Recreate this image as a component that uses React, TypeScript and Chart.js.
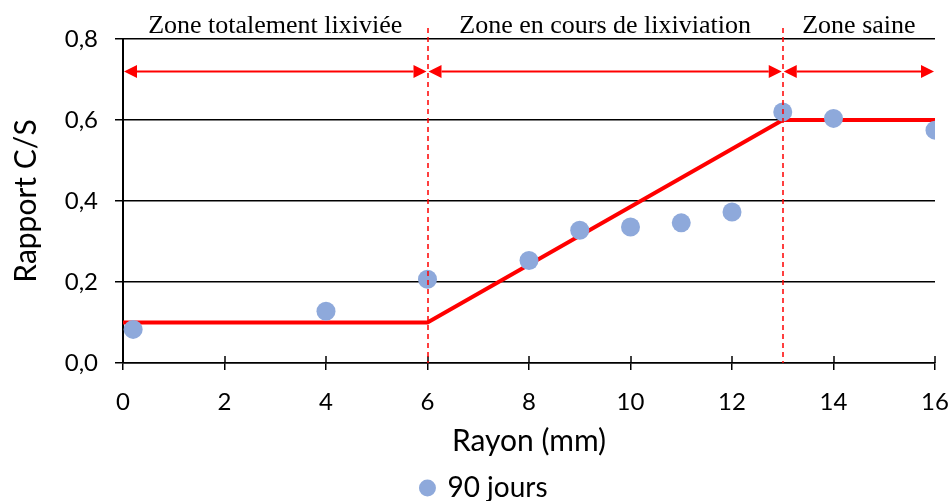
import React, { useEffect, useRef } from 'react';
import { Chart, registerables } from 'chart.js';

Chart.register(...registerables);

// ---- data ----
const rayon = [0.2, 4, 6, 8, 9, 10, 11, 12, 13, 14, 16];
const rapport = [0.083, 0.128, 0.207, 0.253, 0.328, 0.336, 0.346, 0.373, 0.62, 0.604, 0.575];
const modelX = [0, 6, 13, 16];
const modelY = [0.1, 0.1, 0.6, 0.6];
const zoneBounds = [0, 6, 13, 16];
const zoneLabels = ['Zone totalement lixiviée', 'Zone en cours de lixiviation', 'Zone saine'];
const arrowLevel = 0.72;
const seriesLabel = '90 jours';
const xTitle = 'Rayon (mm)';
const yTitle = 'Rapport C/S';

const SANS = 'Lato, "Open Sans", sans-serif';
const SERIF = '"Liberation Serif", "Times New Roman", serif';

const zonesPlugin = {
  id: 'zones',
  afterDatasetsDraw(chart: any) {
    const { ctx, chartArea, scales } = chart;
    const x = scales.x;
    const y = scales.y;
    ctx.save();
    // inner half of x tick marks
    ctx.strokeStyle = '#000';
    ctx.lineWidth = 1.5;
    x.ticks.forEach((t: any) => {
      const px = Math.round(x.getPixelForValue(t.value));
      ctx.beginPath();
      ctx.moveTo(px, chartArea.bottom - 7);
      ctx.lineTo(px, chartArea.bottom);
      ctx.stroke();
    });
    // dashed zone boundaries
    ctx.strokeStyle = '#ff0000';
    ctx.lineWidth = 1.5;
    ctx.setLineDash([5, 4]);
    for (let i = 1; i < zoneBounds.length - 1; i++) {
      const px = Math.round(x.getPixelForValue(zoneBounds[i]));
      ctx.beginPath();
      ctx.moveTo(px, chartArea.top - 11);
      ctx.lineTo(px, chartArea.bottom);
      ctx.stroke();
    }
    ctx.setLineDash([]);
    // arrows
    const ay = y.getPixelForValue(arrowLevel);
    const head = 13;
    const half = 6.5;
    ctx.fillStyle = '#ff0000';
    ctx.lineWidth = 2;
    for (let i = 0; i < zoneBounds.length - 1; i++) {
      const x0 = x.getPixelForValue(zoneBounds[i]) + 1;
      const x1 = x.getPixelForValue(zoneBounds[i + 1]) - 1;
      ctx.beginPath();
      ctx.moveTo(x0 + head, ay);
      ctx.lineTo(x1 - head, ay);
      ctx.stroke();
      ctx.beginPath();
      ctx.moveTo(x0, ay);
      ctx.lineTo(x0 + head, ay - half);
      ctx.lineTo(x0 + head, ay + half);
      ctx.closePath();
      ctx.fill();
      ctx.beginPath();
      ctx.moveTo(x1, ay);
      ctx.lineTo(x1 - head, ay - half);
      ctx.lineTo(x1 - head, ay + half);
      ctx.closePath();
      ctx.fill();
    }
    // zone labels
    ctx.fillStyle = '#000';
    ctx.font = `26px ${SERIF}`;
    ctx.textAlign = 'center';
    ctx.textBaseline = 'alphabetic';
    for (let i = 0; i < zoneLabels.length; i++) {
      const cx = (x.getPixelForValue(zoneBounds[i]) + x.getPixelForValue(zoneBounds[i + 1])) / 2;
      ctx.fillText(zoneLabels[i], cx, chartArea.top - 6);
    }
    ctx.restore();
  },
};

export default function App() {
  const ref = useRef<HTMLCanvasElement | null>(null);
  useEffect(() => {
    if (!ref.current) return;
    const chart = new Chart(ref.current, {
      type: 'scatter',
      data: {
        datasets: [
          {
            label: seriesLabel,
            data: rayon.map((r, i) => ({ x: r, y: rapport[i] })),
            backgroundColor: '#8EA9DB',
            borderColor: '#8EA9DB',
            borderWidth: 0,
            pointRadius: 9.5,
            pointHoverRadius: 9.5,
          },
          {
            label: 'modèle',
            type: 'line',
            data: modelX.map((r, i) => ({ x: r, y: modelY[i] })),
            borderColor: '#ff0000',
            backgroundColor: '#ff0000',
            borderWidth: 4,
            pointRadius: 0,
            showLine: true,
            fill: false,
            tension: 0,
          } as any,
        ],
      },
      options: {
        responsive: false,
        animation: false,
        layout: { padding: { left: 34, right: 16, top: 39, bottom: -11 } },
        plugins: {
          tooltip: { enabled: false },
          legend: {
            position: 'bottom',
            labels: {
              usePointStyle: true,
              pointStyle: 'circle',
              boxWidth: 12,
              boxHeight: 12,
              padding: 0,
              color: '#000',
              font: { family: SANS, size: 28 },
              filter: (item: any) => item.datasetIndex === 0,
            },
          },
        },
        scales: {
          x: {
            type: 'linear',
            min: 0,
            max: 16,
            afterFit: (s: any) => {
              s.height = 111;
              s.paddingRight = 0;
              s.paddingLeft = 0;
            },
            ticks: { stepSize: 2, color: '#000', font: { family: SANS, size: 24 }, padding: 18 },
            grid: { drawOnChartArea: false, color: '#000', lineWidth: 1.5, tickLength: 7 },
            border: { color: '#000', width: 1.5 },
            title: {
              display: true,
              text: xTitle,
              color: '#000',
              font: { family: SANS, size: 30 },
              padding: { top: 0, bottom: 15 },
            },
          },
          y: {
            type: 'linear',
            min: 0,
            max: 0.8,
            afterFit: (s: any) => {
              s.width = 89;
            },
            ticks: {
              stepSize: 0.2,
              color: '#000',
              font: { family: SANS, size: 24 },
              padding: 17,
              callback: (v: any) => Number(v).toFixed(1).replace('.', ','),
            },
            grid: { color: '#000', lineWidth: 1.5, tickLength: 8 },
            border: { color: '#000', width: 2 },
            title: {
              display: true,
              text: yTitle,
              color: '#000',
              font: { family: SANS, size: 30 },
              padding: { top: -26, bottom: 0 },
            },
          },
        },
      },
      plugins: [zonesPlugin],
    });
    return () => chart.destroy();
  }, []);
  return (
    <div style={{ position: 'absolute', left: 0, top: 0, width: 951, height: 501, background: '#fff' }}>
      <canvas ref={ref} width={951} height={501} />
    </div>
  );
}
